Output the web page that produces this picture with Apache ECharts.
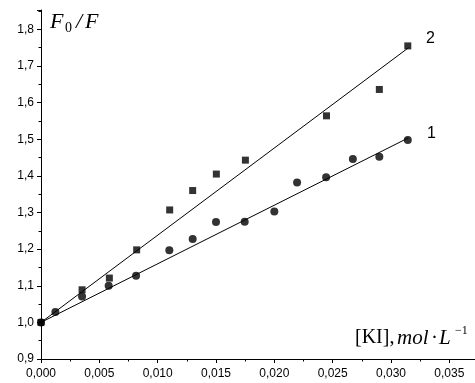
<!DOCTYPE html>
<html>
<head>
<meta charset="utf-8">
<script src="https://cdn.jsdelivr.net/npm/echarts@6/dist/echarts.min.js"></script>
<style>
  html, body { margin: 0; padding: 0; background: #fff; }
  #chart { width: 475px; height: 383px; }
</style>
</head>
<body>
<div id="chart"></div>
<script>
// series 1 (circles)
var kiCircles = [0, 0.00123, 0.00352, 0.0058, 0.00815, 0.011, 0.0130, 0.0150, 0.01746, 0.0200, 0.02195, 0.02444, 0.02673, 0.0290, 0.03144];
var f0fCircles = [1.0, 1.028, 1.071, 1.100, 1.127, 1.197, 1.228, 1.274, 1.275, 1.303, 1.382, 1.396, 1.446, 1.452, 1.498];
// series 2 (squares)
var kiSquares = [0, 0.00352, 0.00586, 0.0082, 0.01103, 0.0130, 0.01503, 0.01752, 0.02447, 0.0290, 0.03144];
var f0fSquares = [1.0, 1.089, 1.121, 1.198, 1.307, 1.360, 1.405, 1.443, 1.564, 1.636, 1.755];
// linear fits (end points)
var fitX = [0, 0.0315];
var fit1Y = [1.0, 1.504];
var fit2Y = [1.0, 1.750];

function pairs(xs, ys) {
    return xs.map(function (x, i) { return [x, ys[i]]; });
}

var chart = echarts.init(document.getElementById('chart'));
var labelFont = { color: '#000', fontFamily: 'Liberation Sans, Arial', fontSize: 12 };
var serif = 'Liberation Serif, Times New Roman';

function txt(left, top, text, size, italic) {
    return {
        type: 'text', left: left, top: top,
        style: { text: text, fontFamily: serif, fontStyle: italic ? 'italic' : 'normal', fontSize: size, fill: '#000' }
    };
}

chart.setOption({
    animation: false,
    grid: { left: 41, right: 0, top: 10, bottom: 24, containLabel: false },
    xAxis: {
        type: 'value',
        min: 0,
        max: 0.0372,
        interval: 0.005,
        splitLine: { show: false },
        axisLine: { lineStyle: { color: '#000', width: 1 } },
        axisTick: { inside: false, length: 4, lineStyle: { color: '#000' } },
        minorTick: { show: true, splitNumber: 2, length: 2.5, lineStyle: { color: '#000' } },
        axisLabel: Object.assign({
            margin: 9,
            showMaxLabel: false,
            formatter: function (v) { return v.toFixed(3).replace('.', ','); }
        }, labelFont)
    },
    yAxis: {
        type: 'value',
        min: 0.9,
        max: 1.853,
        interval: 0.1,
        splitLine: { show: false },
        axisLine: { onZero: false, lineStyle: { color: '#000', width: 1 } },
        axisTick: { inside: false, length: 4, lineStyle: { color: '#000' } },
        minorTick: { show: true, splitNumber: 2, length: 2.5, lineStyle: { color: '#000' } },
        axisLabel: Object.assign({
            margin: 7,
            showMaxLabel: false,
            formatter: function (v) { return v.toFixed(1).replace('.', ','); }
        }, labelFont)
    },
    series: [
        {
            type: 'line',
            data: pairs(fitX, fit1Y),
            showSymbol: false,
            lineStyle: { color: '#000', width: 1 },
            z: 2
        },
        {
            type: 'line',
            data: pairs(fitX, fit2Y),
            showSymbol: false,
            lineStyle: { color: '#000', width: 1 },
            z: 2
        },
        {
            type: 'scatter',
            data: pairs(kiCircles, f0fCircles),
            symbol: 'circle',
            symbolSize: 8,
            itemStyle: { color: '#000' },
            z: 3
        },
        {
            type: 'scatter',
            data: pairs(kiSquares, f0fSquares),
            symbol: 'rect',
            symbolSize: 7,
            itemStyle: { color: '#000' },
            z: 3
        }
    ],
    graphic: [
        // y title F0/F
        txt(50, 11, 'F', 22, true),
        txt(65, 21, '0', 14, false),
        txt(76, 11, '/', 22, true),
        txt(85, 11, 'F', 22, true),
        // x title [KI], mol·L-1
        txt(355, 328, '[KI],', 20, false),
        txt(397, 328, 'mol', 21, true),
        txt(431, 328, '·', 21, false),
        txt(439, 328, 'L', 21, true),
        txt(455, 325, '−1', 12, false),
        // series labels
        { type: 'text', left: 426, top: 31, style: { text: '2', fontFamily: 'Liberation Sans, Arial', fontSize: 16, fill: '#000' } },
        { type: 'text', left: 427, top: 126, style: { text: '1', fontFamily: 'Liberation Sans, Arial', fontSize: 16, fill: '#000' } }
    ]
});
</script>
</body>
</html>
